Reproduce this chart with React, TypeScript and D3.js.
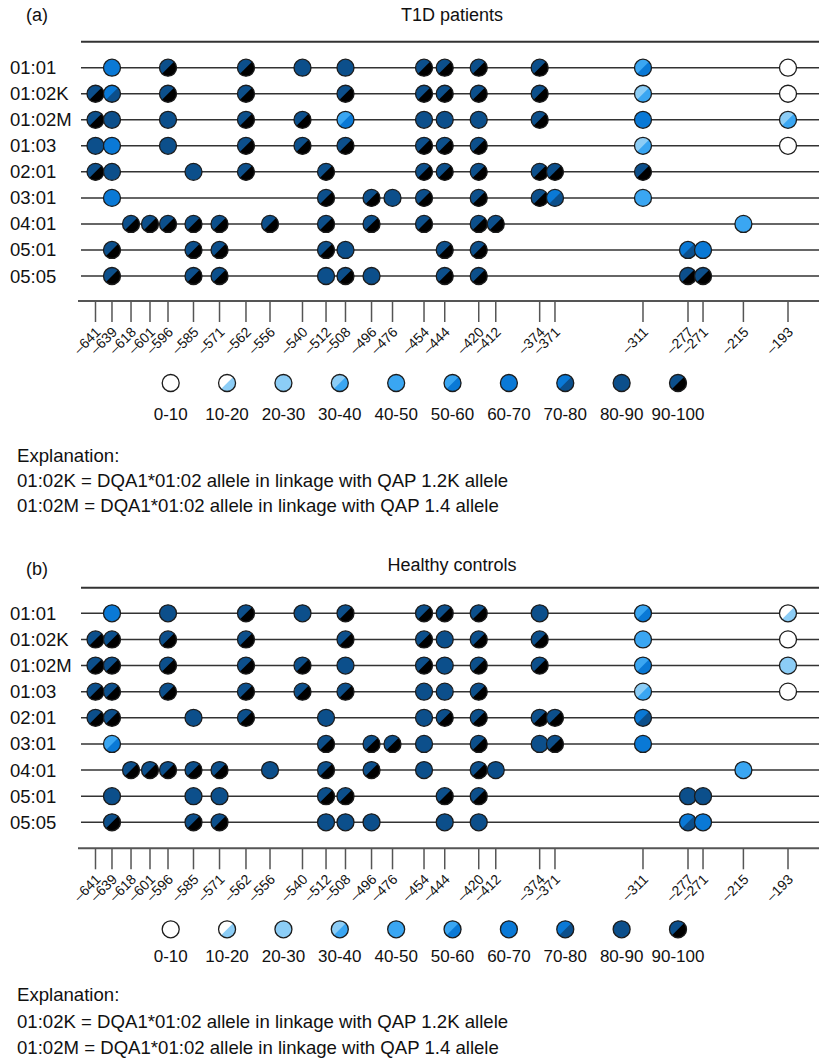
import React from 'react';
import * as d3 from 'd3';

// ---------- data ----------
const sites = [-641, -639, -618, -601, -596, -585, -571, -562, -556, -540, -512, -508, -496, -476, -454, -444, -420, -412, -374, -371, -311, -277, -271, -215, -193];
// schematic (non-proportional) placement of each site along the drawn axis, 0..1
const siteOffsets = [0, 0.0238, 0.0513, 0.0787, 0.1047, 0.1415, 0.1791, 0.2173, 0.252, 0.2989, 0.3329, 0.361, 0.3986, 0.4289, 0.4744, 0.5043, 0.5534, 0.578, 0.6414, 0.6635, 0.7906, 0.8556, 0.8773, 0.9356, 1];
const alleles = ['01:01', '01:02K', '01:02M', '01:03', '02:01', '03:01', '04:01', '05:01', '05:05'];
const bins = ['0-10', '10-20', '20-30', '30-40', '40-50', '50-60', '60-70', '70-80', '80-90', '90-100'];

// [site, bin index] per allele row
const t1dRows: [number, number][][] = [
  [[-639, 6], [-596, 9], [-562, 9], [-540, 8], [-508, 8], [-454, 9], [-444, 9], [-420, 9], [-374, 9], [-311, 5], [-193, 0]],
  [[-641, 9], [-639, 7], [-596, 9], [-562, 9], [-508, 9], [-454, 9], [-444, 9], [-420, 9], [-374, 9], [-311, 3], [-193, 0]],
  [[-641, 9], [-639, 8], [-596, 8], [-562, 9], [-540, 9], [-508, 5], [-454, 8], [-444, 8], [-420, 8], [-374, 9], [-311, 6], [-193, 3]],
  [[-641, 8], [-639, 6], [-596, 8], [-562, 9], [-540, 9], [-508, 9], [-454, 9], [-444, 9], [-420, 9], [-311, 3], [-193, 0]],
  [[-641, 9], [-639, 8], [-585, 8], [-562, 9], [-512, 9], [-454, 9], [-444, 9], [-420, 9], [-374, 9], [-371, 9], [-311, 9]],
  [[-639, 6], [-512, 9], [-496, 9], [-476, 8], [-454, 9], [-420, 9], [-374, 9], [-371, 7], [-311, 4]],
  [[-618, 9], [-601, 9], [-596, 9], [-585, 9], [-571, 9], [-556, 9], [-512, 9], [-496, 9], [-454, 9], [-420, 9], [-412, 9], [-215, 4]],
  [[-639, 9], [-585, 9], [-571, 9], [-512, 9], [-508, 8], [-444, 9], [-420, 9], [-277, 7], [-271, 6]],
  [[-639, 9], [-585, 9], [-571, 9], [-512, 8], [-508, 9], [-496, 8], [-444, 9], [-420, 9], [-277, 9], [-271, 9]],
];

const controlRows: [number, number][][] = [
  [[-639, 6], [-596, 8], [-562, 9], [-540, 8], [-508, 9], [-454, 9], [-444, 9], [-420, 9], [-374, 8], [-311, 5], [-193, 1]],
  [[-641, 9], [-639, 9], [-596, 9], [-562, 9], [-508, 9], [-454, 9], [-444, 8], [-420, 9], [-374, 9], [-311, 4], [-193, 0]],
  [[-641, 9], [-639, 9], [-596, 9], [-562, 9], [-540, 9], [-508, 8], [-454, 9], [-444, 8], [-420, 9], [-374, 9], [-311, 5], [-193, 2]],
  [[-641, 9], [-639, 9], [-596, 9], [-562, 9], [-540, 9], [-508, 9], [-454, 8], [-444, 8], [-420, 9], [-311, 3], [-193, 0]],
  [[-641, 9], [-639, 9], [-585, 8], [-562, 9], [-512, 8], [-454, 8], [-444, 9], [-420, 9], [-374, 9], [-371, 9], [-311, 7]],
  [[-639, 5], [-512, 9], [-496, 9], [-476, 9], [-454, 8], [-420, 9], [-374, 8], [-371, 9], [-311, 6]],
  [[-618, 9], [-601, 9], [-596, 9], [-585, 9], [-571, 9], [-556, 8], [-512, 9], [-496, 9], [-454, 8], [-420, 9], [-412, 8], [-215, 4]],
  [[-639, 8], [-585, 8], [-571, 8], [-512, 9], [-508, 9], [-444, 9], [-420, 9], [-277, 8], [-271, 8]],
  [[-639, 9], [-585, 9], [-571, 9], [-512, 8], [-508, 8], [-496, 8], [-444, 8], [-420, 8], [-277, 7], [-271, 6]],
];

const explanations = [
  '01:02K = DQA1*01:02 allele in linkage with QAP 1.2K allele',
  '01:02M = DQA1*01:02 allele in linkage with QAP 1.4 allele',
];

// ---------- styles ----------
const WHITE = '#ffffff';
const LIGHT = '#8ccdf6';
const SKY = '#3aa6f2';
const BLUE = '#0a79d6';
const NAVY = '#0c4f8b';
const BLACK = '#000000';
// each bin: [upper-left colour, lower-right colour]
const binFills: [string, string][] = [
  [WHITE, WHITE], [WHITE, LIGHT], [LIGHT, LIGHT], [LIGHT, SKY], [SKY, SKY],
  [SKY, BLUE], [BLUE, BLUE], [BLUE, NAVY], [NAVY, NAVY], [NAVY, BLACK],
];

const FONT = '"Liberation Sans", Arial, Helvetica, sans-serif';
const W = 819;
const H = 1059;
const R = 8.5;
const AX_LEFT = 95.5;
const AX_RIGHT = 788;

const x = d3.scaleLinear()
  .domain(sites)
  .range(siteOffsets.map((o) => AX_LEFT + o * (AX_RIGHT - AX_LEFT)));

const legendX = d3.scalePoint<string>().domain(bins).range([170.7, 678]);

const halfArc = d3.arc()({
  innerRadius: 0,
  outerRadius: R,
  startAngle: Math.PI / 4,
  endAngle: (5 * Math.PI) / 4,
} as any) as string;

function Dot({ cx, cy, bin }: { cx: number; cy: number; bin: number }) {
  const [a, b] = binFills[bin];
  return (
    <g transform={`translate(${cx},${cy})`}>
      <circle r={R} fill={a} />
      {a !== b && <path d={halfArc} fill={b} />}
      <circle r={R} fill="none" stroke="#1c1c1c" strokeWidth={1.3} />
    </g>
  );
}

interface Layout {
  tagY: number;
  titleY: number;
  topLineY: number;
  rowY0: number;
  rowY1: number;
  axisY: number;
  legendY: number;
  legendLabelY: number;
  explY: number[];
}

function Panel({ tag, title, rows, L }: { tag: string; title: string; rows: [number, number][][]; L: Layout }) {
  const y = d3.scalePoint<string>().domain(alleles).range([L.rowY0, L.rowY1]);
  return (
    <g>
      <text x={26} y={L.tagY} fontSize={18}>{tag}</text>
      <text x={452} y={L.titleY} fontSize={18} textAnchor="middle">{title}</text>
      <line x1={81} x2={W} y1={L.topLineY} y2={L.topLineY} stroke="#333" strokeWidth={2} />
      {alleles.map((al, i) => (
        <g key={al}>
          <text x={10} y={(y(al) as number) + 6.5} fontSize={18.5}>{al}</text>
          <line x1={81} x2={W} y1={y(al)} y2={y(al)} stroke="#333" strokeWidth={1.5} />
          {rows[i].map(([s, b]) => (
            <Dot key={s} cx={x(s)} cy={y(al) as number} bin={b} />
          ))}
        </g>
      ))}
      <line x1={78} x2={W} y1={L.axisY} y2={L.axisY} stroke="#555" strokeWidth={2} />
      {sites.map((s) => (
        <g key={s}>
          <line x1={x(s)} x2={x(s)} y1={L.axisY} y2={L.axisY + 21} stroke="#555" strokeWidth={1.5} />
          <text
            transform={`translate(${x(s) + 6},${L.axisY + 32}) rotate(-45)`}
            textAnchor="end"
            fontSize={14}
          >
            {'\u2013' + Math.abs(s)}
          </text>
        </g>
      ))}
      {bins.map((bn, i) => (
        <g key={bn}>
          <Dot cx={legendX(bn) as number} cy={L.legendY} bin={i} />
          <text x={legendX(bn)} y={L.legendLabelY} fontSize={17} textAnchor="middle">{bn}</text>
        </g>
      ))}
      <text x={17} y={L.explY[0]} fontSize={18.6}>Explanation:</text>
      {explanations.map((e, i) => (
        <text key={i} x={17} y={L.explY[i + 1]} fontSize={18.6}>{e}</text>
      ))}
    </g>
  );
}

const layoutA: Layout = {
  tagY: 21, titleY: 21, topLineY: 41.7, rowY0: 67.7, rowY1: 276, axisY: 301,
  legendY: 383, legendLabelY: 420, explY: [462, 487, 512],
};
const layoutB: Layout = {
  tagY: 575, titleY: 571, topLineY: 587.7, rowY0: 613.3, rowY1: 822.3, axisY: 848.3,
  legendY: 929.3, legendLabelY: 962, explY: [1001, 1027.5, 1054],
};

export default function App() {
  return (
    <svg
      width={W}
      height={H}
      viewBox={`0 0 ${W} ${H}`}
      style={{ position: 'absolute', left: 0, top: 0, background: '#fff' }}
      fontFamily={FONT}
      fill="#111"
    >
      <rect width={W} height={H} fill="#fff" />
      <Panel tag="(a)" title="T1D patients" rows={t1dRows} L={layoutA} />
      <Panel tag="(b)" title="Healthy controls" rows={controlRows} L={layoutB} />
    </svg>
  );
}
